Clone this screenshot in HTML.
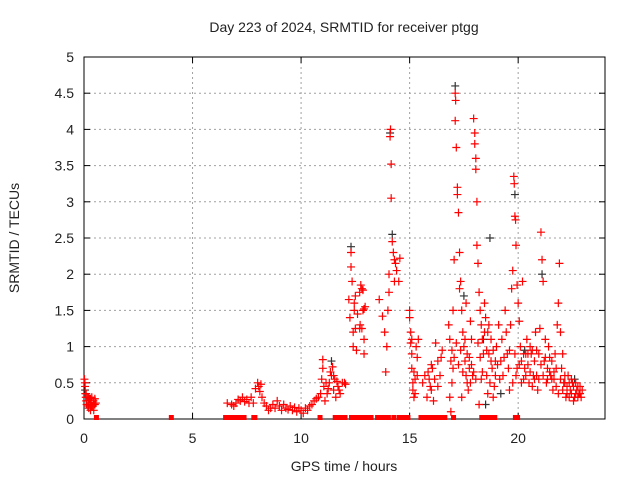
<!DOCTYPE html>
<html><head><meta charset="utf-8"><style>
body{margin:0;background:#fff}
svg{display:block}
text{font-family:"Liberation Sans",sans-serif;font-size:14px;fill:#222}
</style></head><body>
<svg id="chart" width="640" height="480">
<text x="344" y="32" text-anchor="middle">Day 223 of 2024, SRMTID for receiver ptgg</text>
<text x="344" y="471" text-anchor="middle">GPS time / hours</text>
<text transform="translate(19,238) rotate(-90)" text-anchor="middle">SRMTID / TECUs</text>
<g id="grid"></g>
<g id="axes"></g>
<g id="marks"></g>
</svg>
<script>
const xTicks=[0,5,10,15,20];
const yTicks=[0,0.5,1,1.5,2,2.5,3,3.5,4,4.5,5];
const yTickLabels=["0","0.5","1","1.5","2","2.5","3","3.5","4","4.5","5"];
const blackPoints=[[0.05,0.4],[12.3,2.38],[14.1,3.95],[14.2,2.55],[17.1,4.6],[17.5,1.7],[18.4,1.1],[18.7,2.5],[19.2,0.35],[19.85,3.1],[20.3,0.95],[21.1,2.0],[22.6,0.55],[11.4,0.8],[18.5,0.2]];
const redPoints=[
[0.02,0.55],[0.04,0.5],[0.05,0.45],[0.06,0.35],[0.08,0.3],[0.1,0.25],[0.12,0.2],[0.15,0.3],[0.18,0.18],[0.2,0.25],[0.22,0.15],[0.25,0.28],[0.28,0.2],[0.3,0.12],[0.33,0.22],[0.36,0.3],[0.4,0.18],[0.43,0.25],[0.46,0.2],[0.5,0.28],[0.55,0.22],
[6.6,0.22],[6.8,0.2],[6.9,0.18],[7.0,0.22],[7.1,0.27],[7.2,0.25],[7.3,0.3],[7.4,0.24],[7.5,0.27],[7.6,0.22],[7.7,0.3],[7.8,0.22],[7.9,0.42],[8.0,0.5],[8.05,0.45],[8.1,0.38],[8.15,0.48],[8.2,0.3],[8.3,0.22],[8.4,0.18],[8.5,0.12],[8.6,0.15],[8.7,0.2],[8.8,0.15],[8.9,0.25],[9.0,0.18],[9.1,0.12],[9.2,0.2],[9.3,0.15],[9.4,0.13],[9.5,0.18],[9.6,0.12],[9.7,0.16],[9.8,0.1],[9.9,0.15],[10.0,0.12],[10.1,0.08],[10.2,0.15],[10.3,0.12],[10.4,0.18],[10.5,0.2],[10.6,0.25],[10.7,0.28],[10.8,0.3],[10.9,0.35],
[10.95,0.55],[11.0,0.7],[11.0,0.82],[11.05,0.45],[11.1,0.25],[11.2,0.35],[11.3,0.5],[11.4,0.6],[11.45,0.72],[11.5,0.4],[11.55,0.55],[11.6,0.3],[11.7,0.45],[11.8,0.35],[11.9,0.5],[12.0,0.5],[12.05,0.48],
[12.2,1.65],[12.25,1.4],[12.3,2.3],[12.3,2.1],[12.35,1.9],[12.4,1.0],[12.4,1.2],[12.45,1.6],[12.5,1.7],[12.55,0.95],[12.6,1.45],[12.7,1.75],[12.75,1.85],[12.8,1.8],[12.8,1.25],[12.85,1.5],[12.9,1.1],[12.9,0.9],[12.95,1.55],
[13.6,1.65],[13.75,1.42],[13.85,1.2],[13.9,0.65],[13.95,1.0],[14.0,1.5],[14.05,1.75],[14.05,2.0],[14.1,3.9],[14.12,4.0],[14.15,3.52],[14.15,3.05],[14.2,2.45],[14.25,2.3],[14.3,2.2],[14.3,1.9],[14.35,2.15],[14.4,2.05],[14.5,1.9],[14.55,2.22],
[15.0,1.5],[15.0,1.4],[15.05,1.2],[15.05,1.05],[15.1,0.9],[15.1,0.7],[15.15,0.5],[15.15,0.4],[15.2,0.3],[15.25,0.55],[15.3,1.0],[15.35,0.85],[15.4,1.1],
[15.6,0.5],[15.7,0.6],[15.8,0.3],[15.85,0.65],[15.9,0.55],[15.95,0.45],[16.0,0.4],[16.05,0.7],[16.1,0.25],[16.2,1.05],[16.3,0.8],[16.4,0.6],[16.5,0.95],
[16.8,1.3],[16.85,1.1],[16.9,0.8],[16.95,0.5],[17.0,0.7],[17.05,2.2],[17.1,4.5],[17.12,4.4],[17.1,4.12],[17.15,3.75],[17.2,3.2],[17.2,3.1],[17.25,2.85],[17.3,2.3],[17.35,1.9],[17.4,1.5],[17.45,1.2],[17.5,1.0],[17.55,0.8],[17.6,0.6],[17.65,0.9],[17.7,0.4],[17.75,0.7],[17.8,0.5],[17.85,1.1],[17.9,0.6],
[17.95,4.15],[18.0,3.95],[18.0,3.8],[18.05,3.6],[18.05,3.45],[18.1,3.0],[18.1,2.4],[18.15,2.15],[18.2,1.75],[18.25,1.5],[18.3,1.3],[18.35,1.1],[18.4,0.9],[18.45,1.6],[18.5,1.4],[18.55,0.6],[18.6,1.2],[18.65,0.9],[18.7,0.5],[18.75,1.1],[18.8,0.7],[18.85,0.3],[18.9,0.45],[18.95,0.8],
[19.0,1.0],[19.1,1.3],[19.2,0.8],[19.3,0.6],[19.4,1.5],[19.5,0.9],[19.6,0.4],[19.7,1.8],[19.75,2.05],[19.8,3.35],[19.82,3.25],[19.85,2.8],[19.88,2.75],[19.9,2.4],[19.95,1.85],[20.0,1.6],[20.05,1.35],[20.1,1.0],
[20.2,1.9],[20.3,0.7],[20.4,1.1],[20.5,0.5],[20.6,0.9],[20.7,0.6],[20.8,1.2],[20.9,0.4],[21.0,1.25],[21.05,2.58],[21.1,2.2],[21.15,1.9],[21.2,0.8],[21.3,0.5],[21.4,1.0],[21.5,0.6],[21.6,0.4],[21.7,0.9],[21.8,1.3],[21.85,1.6],[21.9,2.15],[21.95,1.2],[22.0,0.7],[22.1,0.5],[22.2,0.3],[22.3,0.6],[22.4,0.4],[22.5,0.5],[22.6,0.3],[22.7,0.4],[22.8,0.35],[22.9,0.3],
[19.6,0.95],[19.9,0.6],[20.15,0.8],[20.25,0.55],[20.35,0.9],[20.45,0.75],[20.55,1.0],[20.65,0.45],[20.75,0.8],[20.85,0.6],[20.95,0.9],[21.25,1.1],[21.35,0.7],[21.45,0.85],[21.55,0.55],[21.65,0.65],[21.75,0.45],[22.05,0.9],[22.15,0.6],[22.25,0.45],[22.35,0.5],[22.45,0.35],[22.55,0.45],[22.65,0.5],[22.75,0.3],[22.85,0.45],
[17.4,0.3],[17.6,1.6],[17.8,1.35],[18.2,0.2],[18.3,0.55],[18.6,0.35],[16.85,0.3],[16.9,0.1],[17.0,1.5],[17.3,1.8]
];
const denseRedPoints=[
[0.1,0.35],[0.2,0.3],[0.3,0.28],[0.35,0.18],[0.45,0.12],[0.5,0.2],
[11.15,0.5],[11.25,0.42],[11.35,0.65],[11.5,0.6],[11.65,0.52],[11.75,0.4],
[12.7,1.25],[12.72,1.3],[12.85,1.78],[12.9,1.52],[12.45,1.5],[12.5,1.25],
[15.1,1.1],[15.2,0.65],[15.25,0.35],[15.35,0.6],[16.0,0.75],[16.15,0.55],[16.3,0.45],[16.45,0.85],
[16.95,0.95],[17.05,0.85],[17.15,1.05],[17.25,0.75],[17.35,0.95],[17.45,0.65],[17.55,1.1],[17.65,0.5],[17.75,0.85],[17.85,0.75],[17.95,0.65],[18.05,0.55],[18.15,1.05],[18.25,0.85],[18.35,0.65],[18.45,1.2],[18.55,0.95],[18.65,1.3],[18.75,0.8],[18.85,0.95],[18.95,0.6],
[19.05,0.75],[19.15,0.55],[19.25,1.1],[19.35,0.85],[19.45,1.2],[19.55,0.7],[19.65,1.3],[19.75,0.5],[19.85,0.9],[19.95,0.7],
[20.05,0.75],[20.15,0.5],[20.25,0.9],[20.35,0.6],[20.45,0.9],[20.55,0.65],[20.65,0.95],[20.75,0.55],[20.85,0.95],[20.95,0.55],[21.05,0.75],[21.15,0.6],[21.25,0.85],[21.35,0.55],[21.45,0.65],[21.55,0.8],[21.65,0.55],[21.75,0.7],[21.85,0.35],[21.95,0.55],[22.05,0.4],[22.15,0.5],[22.25,0.35],[22.35,0.3],[22.45,0.55],[22.55,0.25],[22.65,0.35],[22.75,0.45],[22.85,0.35],[22.95,0.4]
];
const zeroPoints=[0.55,4.0,6.5,6.6,6.7,6.8,6.9,7.0,7.2,7.35,7.8,7.85,10.85,11.55,11.7,11.85,12.0,12.3,12.5,12.6,12.8,13.0,13.2,13.5,13.7,13.8,13.9,14.0,14.25,14.5,14.7,14.8,14.9,15.5,15.65,15.8,16.0,16.2,16.4,16.6,17.0,18.3,18.4,18.5,18.7,18.9,19.85,19.95];
const L=84,R=605,T=57,B=419,XMAX=24,YMAX=5;
const xs=v=>L+v/XMAX*(R-L), ys=v=>B-v/YMAX*(B-T);
const NS="http://www.w3.org/2000/svg";
function mk(tag,at,parent){const e=document.createElementNS(NS,tag);for(const k in at)e.setAttribute(k,at[k]);parent.appendChild(e);return e;}
const grid=document.getElementById('grid'),axes=document.getElementById('axes'),marks=document.getElementById('marks');
yTicks.forEach((v,i)=>{const y=ys(v);
 if(i>0&&i<yTicks.length-1){const g=mk('line',{x1:L,x2:R,y1:y,y2:y,stroke:'#a0a0a0','stroke-dasharray':'2,3'},grid);}
 mk('line',{x1:L,x2:L+6,y1:y,y2:y,stroke:'#000'},axes);mk('line',{x1:R,x2:R-6,y1:y,y2:y,stroke:'#000'},axes);
 const t=mk('text',{x:L-10,y:y+5,'text-anchor':'end'},axes);t.textContent=yTickLabels[i];
 
 });
xTicks.forEach(v=>{const x=xs(v);
 if(v>0){const g=mk('line',{x1:x,x2:x,y1:T,y2:B,stroke:'#a0a0a0','stroke-dasharray':'2,3'},grid);}
 mk('line',{x1:x,x2:x,y1:B,y2:B-6,stroke:'#000'},axes);mk('line',{x1:x,x2:x,y1:T,y2:T+6,stroke:'#000'},axes);
 const t=mk('text',{x:x,y:B+24,'text-anchor':'middle'},axes);t.textContent=String(v);
 
 });
const fr=mk('rect',{x:L,y:T,width:R-L,height:B-T,fill:'none',stroke:'#000'},axes);


function plus(t,v,col){const x=xs(t),y=ys(v);const p=mk('path',{d:`M${x-4},${y}h8M${x},${y-4}v8`,stroke:col,'stroke-width':1.2,fill:'none'},marks);
 
 }
blackPoints.forEach(p=>plus(p[0],p[1],'#333'));
redPoints.forEach(p=>plus(p[0],p[1],'#ff0000'));
denseRedPoints.forEach(p=>plus(p[0],p[1],'#ff0000'));
zeroPoints.forEach(t=>{const r=mk('rect',{x:xs(t)-2,y:B-4,width:5,height:5,fill:'#ff0000'},marks);
 
 });
</script>
</body></html>
